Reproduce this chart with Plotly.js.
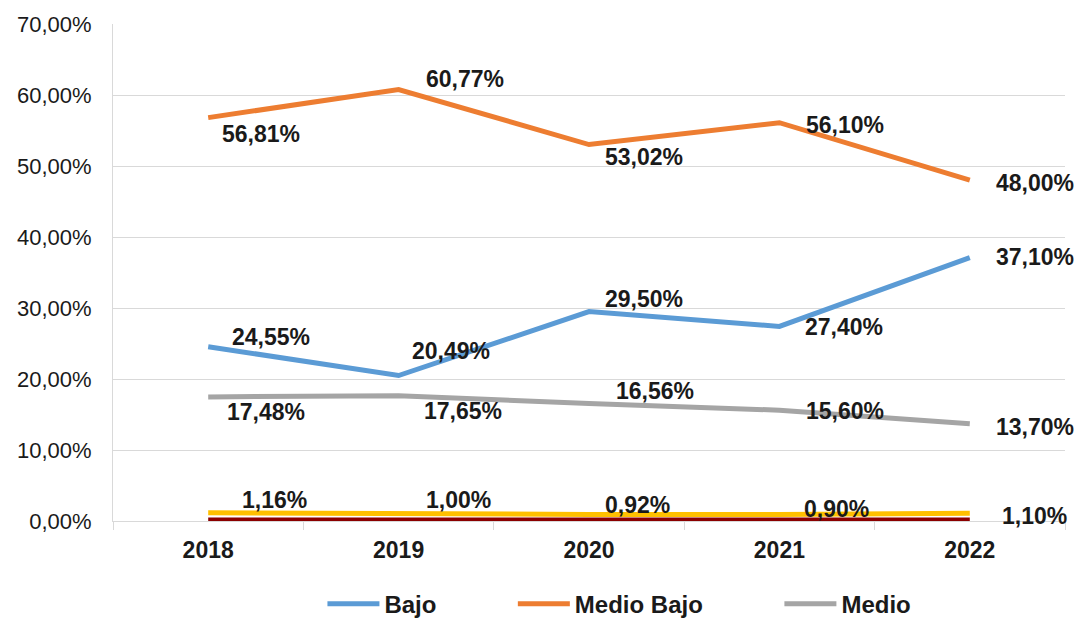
<!DOCTYPE html>
<html>
<head>
<meta charset="utf-8">
<script src="https://cdn.plot.ly/plotly-3.0.1.min.js"></script>
<style>html,body{margin:0;padding:0;background:#fff;}#chart{width:1083px;height:625px;}</style>
</head>
<body>
<div id="chart"></div>
<script>
const years = ['2018', '2019', '2020', '2021', '2022'];
const bajo = [24.55, 20.49, 29.50, 27.40, 37.10];
const medioBajo = [56.81, 60.77, 53.02, 56.10, 48.00];
const medio = [17.48, 17.65, 16.56, 15.60, 13.70];
const medioAlto = [1.16, 1.00, 0.92, 0.90, 1.10];
const alto = [0.15, 0.15, 0.15, 0.15, 0.15];

const seriesNames = ['Bajo', 'Medio Bajo', 'Medio', 'Medio Alto', 'Alto'];
const seriesValues = [bajo, medioBajo, medio, medioAlto, alto];
const colors = ['#5b9bd5', '#ed7d31', '#a5a5a5', '#ffc000', '#8b0000'];
const legendIds = ['legend', 'legend2', 'legend3', null, null];
const showLabels = [true, true, true, true, false];

// label offsets in pixels (dx right, dy down) per series/point
const labelOffsets = [
  [[63,-10],[52,-25],[55,-13],[65,1],[65,-1]],
  [[53,16],[66,-11],[55,12],[66,2],[65,3]],
  [[58,15],[64,15],[66,-12],[66,1],[65,3]],
  [[66,-13],[60,-14],[48,-9],[57,-6],[65,3]],
  [[0,0],[0,0],[0,0],[0,0],[0,0]]
];

function fmt(v){ return v.toFixed(2).replace('.', ',') + '%'; }

const FONT = 'Liberation Sans, Arial, sans-serif';
const traces = [];
const order = [4,3,2,1,0];
order.forEach(i => {
  const t = {
    x: years, y: seriesValues[i], name: seriesNames[i], type: 'scatter', mode: 'lines',
    line: {color: colors[i], width: 5}, showlegend: legendIds[i] !== null
  };
  if (legendIds[i]) t.legend = legendIds[i];
  traces.push(t);
});

const annotations = [];
seriesValues.forEach((vals, i) => {
  if (!showLabels[i]) return;
  vals.forEach((v, j) => {
    annotations.push({
      x: j, y: v, xref: 'x', yref: 'y', text: '<b>' + fmt(v) + '</b>', showarrow: false,
      xanchor: 'center', yanchor: 'middle', xshift: labelOffsets[i][j][0], yshift: -labelOffsets[i][j][1],
      font: {family: FONT, size: 23, color: '#1a1a1a'}
    });
  });
});

const legendFont = {family: FONT, size: 24, color: '#1a1a1a', weight: 'bold'};
function mkLegend(x){
  return {orientation: 'h', x: x, xanchor: 'left', y: -0.122, yanchor: 'top', font: legendFont,
          bgcolor: 'rgba(0,0,0,0)', borderwidth: 0, itemwidth: 52};
}

const layout = {
  width: 1083, height: 625,
  margin: {l: 113, r: 18, t: 24, b: 104, autoexpand: false},
  paper_bgcolor: '#fff', plot_bgcolor: '#fff',
  separators: ',.',
  font: {family: FONT, size: 22, color: '#1a1a1a'},
  xaxis: {
    type: 'category', range: [-0.5, 4.5], tickson: 'boundaries', ticks: 'outside', ticklen: 8,
    tickcolor: '#d9d9d9', showline: true, linecolor: '#d9d9d9', linewidth: 1, showgrid: false,
    tickfont: {family: FONT, size: 23, color: '#1a1a1a', weight: 'bold'}, ticklabelstandoff: 8,
    fixedrange: true
  },
  yaxis: {
    range: [0, 70], dtick: 10, tickformat: '.2f', ticksuffix: '%', showline: true, linecolor: '#d9d9d9',
    linewidth: 1, gridcolor: '#d9d9d9', gridwidth: 1, zeroline: false, ticks: '', ticklabelstandoff: 16,
    tickfont: {family: FONT, size: 22, color: '#1a1a1a'},
    fixedrange: true
  },
  legend: mkLegend(0.22),
  legend2: mkLegend(0.42),
  legend3: mkLegend(0.70),
  annotations: annotations,
  showlegend: true
};

Plotly.newPlot('chart', traces, layout, {displayModeBar: false, staticPlot: true});
</script>
</body>
</html>
